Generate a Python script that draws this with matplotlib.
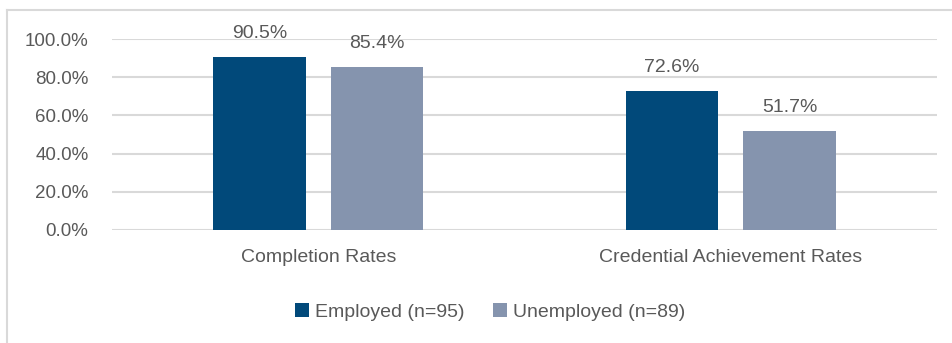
import matplotlib
matplotlib.use("Agg")
import matplotlib.pyplot as plt
import numpy as np
from matplotlib.patches import Patch
from matplotlib.lines import Line2D

categories = ["Completion Rates", "Credential Achievement Rates"]
series_names = ["Employed (n=95)", "Unemployed (n=89)"]
employed = [90.5, 72.6]
unemployed = [85.4, 51.7]
yticks = [0, 20, 40, 60, 80, 100]

colors = ["#01497A", "#8594AE"]
text_color = "#595959"
grid_color = "#D9D9D9"

plt.rcParams['font.family'] = ['Liberation Sans', 'DejaVu Sans']
fs = 14

fig = plt.figure(figsize=(9.52, 3.43), dpi=100)
ax = fig.add_axes([112/952, 1-230/343, (937-112)/952, (230-39)/343])

x = np.arange(len(categories))
w = 0.225
gap = 0.06
off = (w + gap) / 2
for vals, col, name, sgn in [(employed, colors[0], series_names[0], -1),
                             (unemployed, colors[1], series_names[1], 1)]:
    bars = ax.bar(x + sgn*off, vals, width=w, color=col, label=name, zorder=3)
    for b, v in zip(bars, vals):
        ax.annotate(f"{v:.1f}%", (b.get_x() + b.get_width()/2, v),
                    xytext=(0, 11), textcoords="offset points",
                    ha="center", va="bottom", fontsize=fs, color=text_color)

ax.set_xlim(-0.5, 1.5)
ax.set_ylim(0, 100)
ax.set_yticks(yticks)
ax.set_yticklabels([f"{t:.1f}%" for t in yticks])
ax.set_xticks(x)
ax.set_xticklabels(categories)
ax.tick_params(axis='both', length=0, labelsize=fs, colors=text_color)
ax.tick_params(axis='y', labelsize=13.5, pad=17)
ax.tick_params(axis='x', pad=14)
for s in ax.spines.values():
    s.set_visible(False)
ax.yaxis.grid(True, color=grid_color, linewidth=1.5, zorder=0)
ax.set_axisbelow(True)

handles = [Patch(facecolor=colors[0]), Patch(facecolor=colors[1])]
leg = fig.legend(handles, series_names, loc="center", bbox_to_anchor=(490/952, 1-312/343),
                 ncol=2, frameon=False, fontsize=fs, handlelength=0.7, handleheight=0.7,
                 handletextpad=0.3, columnspacing=1.5, labelcolor=text_color)

# chart border (top and left visible)
fig.add_artist(Line2D([6.5/952, 6.5/952], [0, 1-10/343], transform=fig.transFigure,
                      color=grid_color, linewidth=1.5))
fig.add_artist(Line2D([6.5/952, 1], [1-10/343, 1-10/343], transform=fig.transFigure,
                      color=grid_color, linewidth=1.5))

fig.savefig("out.png", dpi=100)
